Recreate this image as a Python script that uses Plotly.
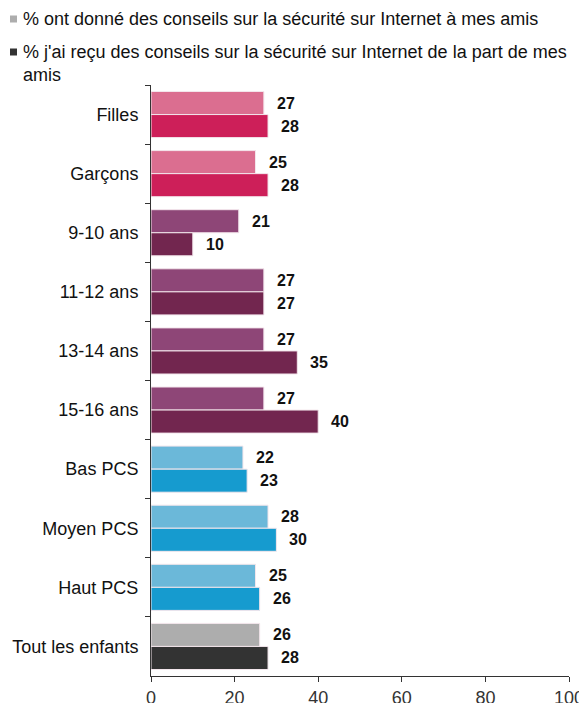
import plotly.graph_objects as go

categories = ["Filles", "Garçons", "9-10 ans", "11-12 ans", "13-14 ans",
              "15-16 ans", "Bas PCS", "Moyen PCS", "Haut PCS", "Tout les enfants"]
gave_advice = [27, 25, 21, 27, 27, 27, 22, 28, 25, 26]
got_advice = [28, 28, 10, 27, 35, 40, 23, 30, 26, 28]

series_names = [
    "% ont donné des conseils sur la sécurité sur Internet à mes amis",
    "% j'ai reçu des conseils sur la sécurité sur Internet de la part de mes<br>amis",
]
legend_colors = ["#ADADAD", "#333333"]

# colours per group: (light, dark)
pink = ("#DB6E90", "#CD1F59")
plum = ("#8E4677", "#72264F")
blue = ("#6BB8D9", "#169BCF")
grey = ("#ADADAD", "#333333")
group_colors = [pink, pink, plum, plum, plum, plum, blue, blue, blue, grey]

FONT = "Liberation Sans, Arial, sans-serif"
label_font = dict(family=FONT, size=16, color="#111111")

# the html page body has an 8px margin, so the figure is drawn a bit smaller
OFF = 8
W, H = 587 - OFF, 703 - OFF
L, R, T, B = 151 - OFF, 18, 85 - OFF, 27


def px_x(px):
    return (px - OFF - L) / (W - L - R)


def px_y(py):
    return (H - B - (py - OFF)) / (H - T - B)


fig = go.Figure()

fig.add_trace(go.Bar(
    y=categories, x=gave_advice, orientation="h", name=series_names[0],
    marker=dict(color=[c[0] for c in group_colors], line=dict(color="#F3E6EC", width=1)),
    showlegend=False, hoverinfo="x+y"))
fig.add_trace(go.Bar(
    y=categories, x=got_advice, orientation="h", name=series_names[1],
    marker=dict(color=[c[1] for c in group_colors], line=dict(color="#F3E6EC", width=1)),
    showlegend=False, hoverinfo="x+y"))

# value labels next to each bar
for cat, a, b in zip(categories, gave_advice, got_advice):
    fig.add_annotation(x=a, y=cat, text=f"<b>{a}</b>", showarrow=False,
                       xanchor="left", xshift=11, yshift=11.5, font=label_font)
    fig.add_annotation(x=b, y=cat, text=f"<b>{b}</b>", showarrow=False,
                       xanchor="left", xshift=11, yshift=-11.5, font=label_font)

# hand drawn legend at the top
for name, color, top in zip(series_names, legend_colors, [7, 40]):
    fig.add_annotation(xref="paper", yref="paper", x=px_x(21), y=px_y(top),
                       xanchor="left", yanchor="top", align="left",
                       text=name, showarrow=False,
                       font=dict(family=FONT, size=18, color="#111111"))
    mid = top + 12
    fig.add_shape(type="rect", xref="paper", yref="paper",
                  x0=px_x(10), x1=px_x(17), y0=px_y(mid - 3.5), y1=px_y(mid + 3.5),
                  fillcolor=color, line=dict(width=0))

fig.update_layout(
    width=W, height=H,
    margin=dict(l=L, r=R, t=T, b=B, autoexpand=False),
    paper_bgcolor="white", plot_bgcolor="white",
    barmode="group", bargap=0.22, bargroupgap=0,
    font=dict(family=FONT, size=18, color="#111111"),
    showlegend=False,
)

fig.update_xaxes(range=[0, 100], dtick=20, showgrid=False, zeroline=False,
                 showline=True, linecolor="#333333", linewidth=1,
                 ticks="outside", ticklen=5, tickcolor="#333333", automargin=False,
                 tickfont=dict(size=18, color="#333333"), fixedrange=True)
fig.update_yaxes(autorange="reversed", showgrid=False, showline=True,
                 linecolor="#333333", linewidth=1, ticks="outside", automargin=False,
                 tickson="boundaries", ticklen=5, tickcolor="#333333",
                 ticklabelstandoff=8, tickfont=dict(size=18, color="#111111"))

fig.write_html("out.html")
